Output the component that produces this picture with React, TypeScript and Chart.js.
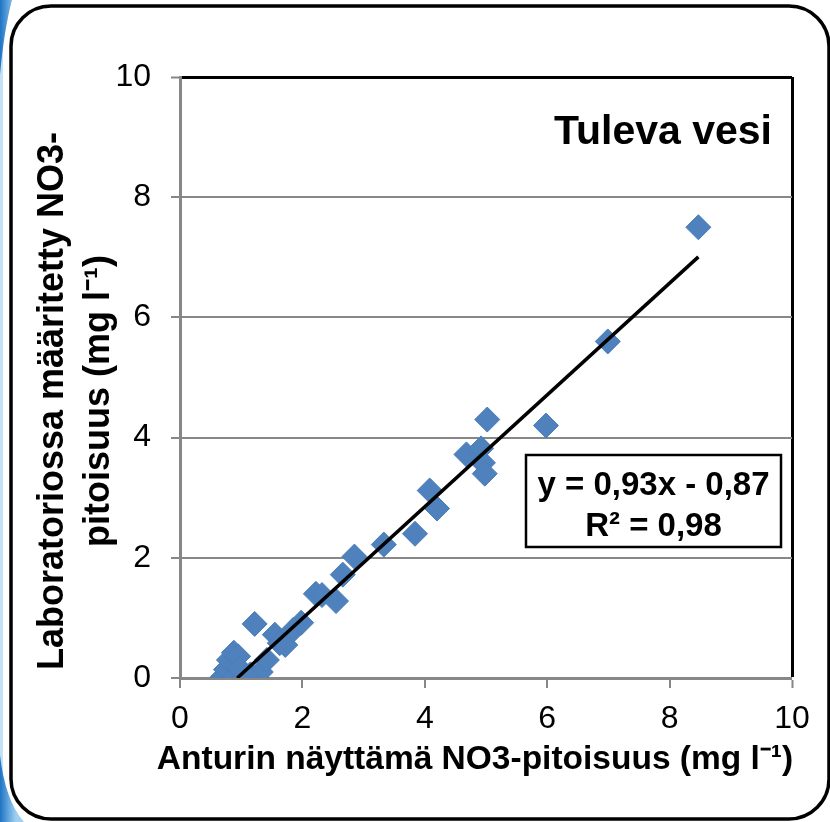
import React, { useEffect, useRef } from "react";
import { Chart, registerables } from "chart.js";

Chart.register(...registerables);

// ---- data ----
const sensorValues = [
  0.7, 0.75, 0.8, 0.88, 0.95, 0.88, 1.05, 1.15, 1.25, 1.32,
  1.22, 1.42, 1.55, 1.63, 1.72, 1.85, 1.98, 2.22, 2.32, 2.55,
  2.66, 2.85, 3.33, 3.84, 4.08, 4.2, 4.68, 4.92, 4.95, 4.98,
  5.02, 5.98, 6.99, 8.47, 0.98, 1.12,
];
const labValues = [
  0.02, 0.14, 0.3, 0.42, 0.36, 0.0, 0.02, 0.06, 0.0, 0.1,
  0.9, 0.3, 0.72, 0.58, 0.55, 0.8, 0.92, 1.4, 1.38, 1.28,
  1.72, 2.02, 2.22, 2.4, 3.12, 2.82, 3.72, 3.82, 3.58, 3.4,
  4.3, 4.2, 5.6, 7.5, 0.15, 0.0,
];
const xTickValues = [0, 2, 4, 6, 8, 10];
const yTickValues = [0, 2, 4, 6, 8, 10];
const trendSlope = 0.93;
const trendIntercept = -0.87;
const chartTitle = "Tuleva vesi";
const equationLines = ["y = 0,93x - 0,87", "R² = 0,98"];
const xAxisTitle = "Anturin näyttämä NO3-pitoisuus (mg l⁻¹)";
const yAxisTitle = ["Laboratoriossa määritetty NO3-", "pitoisuus (mg l⁻¹)"];

const FONT = "'Liberation Sans', Arial, Helvetica, sans-serif";
const AXIS_GRAY = "#878787";
const MARKER_BLUE = "#4F81BD";

const points = sensorValues.map((x, i) => ({ x, y: labValues[i] }));
const maxX = Math.max(...sensorValues);
const minX = Math.max(Math.min(...sensorValues), -trendIntercept / trendSlope);
const trendPoints = [minX, maxX].map((x) => ({ x, y: trendSlope * x + trendIntercept }));

function roundRectPath(ctx: CanvasRenderingContext2D, x: number, y: number, w: number, h: number, r: number) {
  ctx.beginPath();
  ctx.moveTo(x + r, y);
  ctx.lineTo(x + w - r, y);
  ctx.arcTo(x + w, y, x + w, y + r, r);
  ctx.lineTo(x + w, y + h - r);
  ctx.arcTo(x + w, y + h, x + w - r, y + h, r);
  ctx.lineTo(x + r, y + h);
  ctx.arcTo(x, y + h, x, y + h - r, r);
  ctx.lineTo(x, y + r);
  ctx.arcTo(x, y, x + r, y, r);
  ctx.closePath();
}

const decorPlugin = {
  id: "decor",
  beforeDraw(chart: any) {
    const ctx: CanvasRenderingContext2D = chart.ctx;
    const W = chart.width;
    const H = chart.height;
    ctx.save();
    ctx.fillStyle = "#ffffff";
    ctx.fillRect(0, 0, W, H);
    // blue swoosh on the left edge
    const g = ctx.createLinearGradient(0, 0, 16, 0);
    g.addColorStop(0, "#1e74c4");
    g.addColorStop(1, "#9fd0f2");
    ctx.fillStyle = "rgba(150,200,238,0.55)";
    ctx.fillRect(0, 0, 3, H);
    ctx.fillStyle = g;
    ctx.beginPath();
    ctx.moveTo(0, 0);
    ctx.lineTo(12, 0);
    ctx.quadraticCurveTo(4, 30, 0, 75);
    ctx.closePath();
    ctx.fill();
    ctx.beginPath();
    ctx.moveTo(0, 755);
    ctx.quadraticCurveTo(5, 800, 24, H);
    ctx.lineTo(0, H);
    ctx.closePath();
    ctx.fill();
    // rounded outer frame
    ctx.strokeStyle = "#000";
    ctx.lineWidth = 3.5;
    roundRectPath(ctx, 11, 6, 818, 813, 40);
    ctx.stroke();
    ctx.restore();
  },
  afterDatasetsDraw(chart: any) {
    const ctx: CanvasRenderingContext2D = chart.ctx;
    const ca = chart.chartArea;
    ctx.save();
    // title inside plot
    ctx.fillStyle = "#000";
    ctx.font = `bold 41px ${FONT}`;
    ctx.textAlign = "right";
    ctx.textBaseline = "alphabetic";
    ctx.fillText(chartTitle, ca.right - 20, ca.top + 67);
    // equation box
    const bx = ca.right - 266;
    const by = ca.top + 378;
    const bw = 255;
    const bh = 92;
    ctx.fillStyle = "#fff";
    ctx.fillRect(bx, by, bw, bh);
    ctx.strokeStyle = "#000";
    ctx.lineWidth = 2.5;
    ctx.strokeRect(bx, by, bw, bh);
    ctx.fillStyle = "#000";
    ctx.font = `bold 33px ${FONT}`;
    ctx.textAlign = "center";
    ctx.fillText(equationLines[0], bx + bw / 2, by + 40);
    ctx.fillText(equationLines[1], bx + bw / 2, by + 81);

    // axis titles
    ctx.textBaseline = "middle";
    ctx.font = `bold 33.5px ${FONT}`;
    ctx.fillText(xAxisTitle, ca.left + 295, ca.bottom + 82);
    ctx.translate(0, ca.top + 324);
    ctx.rotate(-Math.PI / 2);
    ctx.font = `bold 36px ${FONT}`;
    ctx.fillText(yAxisTitle[0], 0, 53);
    ctx.fillText(yAxisTitle[1], 0, 99);
    ctx.restore();
  },
};

export default function App() {
  const ref = useRef<HTMLCanvasElement | null>(null);
  useEffect(() => {
    if (!ref.current) return;
    const chart = new Chart(ref.current, {
      type: "scatter",
      data: {
        datasets: [
          {
            label: "trend",
            data: trendPoints,
            showLine: true,
            borderColor: "#000",
            borderWidth: 3.5,
            pointRadius: 0,
            order: 0,
          },
          {
            label: "Tuleva vesi",
            data: points,
            pointStyle: "rectRot",
            pointRadius: 12.5,
            backgroundColor: MARKER_BLUE,
            borderColor: "#4A7DBA",
            borderWidth: 1,
            order: 1,
          },
        ],
      },
      plugins: [decorPlugin],
      options: {
        animation: false,
        responsive: false,
        devicePixelRatio: 1,
        layout: { padding: { left: 0, right: 38, top: 77, bottom: 0 } },
        plugins: { legend: { display: false }, tooltip: { enabled: false } },
        scales: {
          x: {
            type: "linear",
            min: 0,
            max: 10,
            afterFit: (s: any) => {
              s.height = 144;
            },
            afterBuildTicks: (s: any) => {
              s.ticks = xTickValues.map((v) => ({ value: v }));
            },
            ticks: {
              color: "#000",
              font: { family: FONT, size: 32 },
              padding: 12,
              maxRotation: 0,
              autoSkip: false,
            },
            grid: {
              drawOnChartArea: true,
              color: (c: any) => (c.tick && c.tick.value === 10 ? "#000" : "rgba(0,0,0,0)"),
              lineWidth: (c: any) => (c.tick && c.tick.value === 10 ? 3 : 0),
              tickColor: AXIS_GRAY,
              tickWidth: 2,
              tickLength: 10,
            },
            border: { display: true, color: AXIS_GRAY, width: 3 },
            title: { display: false },
          },
          y: {
            type: "linear",
            min: 0,
            max: 10,
            afterFit: (s: any) => {
              s.width = 180;
            },
            afterBuildTicks: (s: any) => {
              s.ticks = yTickValues.map((v) => ({ value: v }));
            },
            ticks: {
              color: "#000",
              font: { family: FONT, size: 32 },
              padding: 20,
            },
            grid: {
              color: (c: any) => (c.tick && c.tick.value === 10 ? "#000" : AXIS_GRAY),
              lineWidth: (c: any) => (c.tick && c.tick.value === 10 ? 3 : 2),
              tickColor: AXIS_GRAY,
              tickWidth: 2,
              tickLength: 9,
            },
            border: { display: true, color: AXIS_GRAY, width: 3 },
            title: { display: false },
          },
        },
      },
    });
    return () => chart.destroy();
  }, []);
  return (
    <div style={{ position: "absolute", left: 0, top: 0, width: 830, height: 822 }}>
      <canvas ref={ref} width={830} height={822} style={{ display: "block", width: 830, height: 822 }} />
    </div>
  );
}
